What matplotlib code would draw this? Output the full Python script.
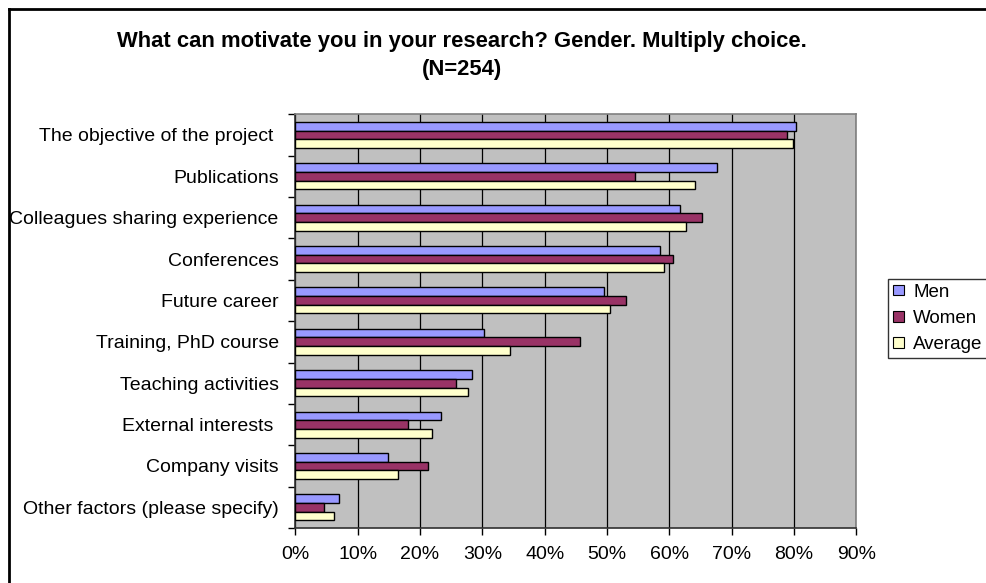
import matplotlib
matplotlib.use("Agg")
import matplotlib.pyplot as plt
import numpy as np
from matplotlib.lines import Line2D
from matplotlib.patches import Patch
from matplotlib.ticker import FuncFormatter, FixedLocator

# survey answers, share of respondents (top to bottom as in the chart)
categories = [
    "The objective of the project ",
    "Publications",
    "Colleagues sharing experience",
    "Conferences",
    "Future career",
    "Training, PhD course",
    "Teaching activities",
    "External interests ",
    "Company visits",
    "Other factors (please specify)",
]
men = [0.803, 0.677, 0.617, 0.585, 0.496, 0.303, 0.283, 0.234, 0.148, 0.070]
women = [0.789, 0.545, 0.652, 0.606, 0.531, 0.456, 0.258, 0.181, 0.213, 0.046]
average = [0.799, 0.642, 0.626, 0.591, 0.505, 0.344, 0.277, 0.219, 0.164, 0.062]
x_ticks = [0, 0.1, 0.2, 0.3, 0.4, 0.5, 0.6, 0.7, 0.8, 0.9]

colors = {"Men": "#9999FF", "Women": "#993366", "Average": "#FFFFCC"}

plt.rcParams["font.family"] = ["Liberation Sans", "DejaVu Sans"]

W, H = 986, 583
fig = plt.figure(figsize=(W / 100, H / 100), dpi=100)
fig.patch.set_facecolor("white")

# plot area in pixels: x 295..856, y 114..528
ax = fig.add_axes([295.3 / W, 1 - 528 / H, (856.3 - 295.3) / W, (528 - 114.3) / H])
ax.set_facecolor("#C0C0C0")

y = np.arange(len(categories))
h = 0.21
for off, vals, name in [(-h, men, "Men"), (0, women, "Women"), (h, average, "Average")]:
    ax.barh(y + off, vals, h, color=colors[name], edgecolor="black",
            linewidth=1.0, zorder=3)

ax.set_xlim(0, 0.9)
ax.set_ylim(len(categories) - 0.5, -0.5)

ax.xaxis.set_major_locator(FixedLocator(x_ticks))
ax.xaxis.set_major_formatter(FuncFormatter(lambda v, p: f"{v * 100:.0f}%"))
ax.grid(axis="x", color="black", linewidth=0.9, zorder=1)
ax.set_axisbelow(True)

ax.set_yticks(y)
ax.set_yticklabels(categories)
ax.set_yticks(np.arange(len(categories) + 1) - 0.5, minor=True)
ax.tick_params(axis="y", which="major", length=0, pad=12, labelsize=14)
ax.tick_params(axis="y", which="minor", length=5, width=1, direction="out")
ax.tick_params(axis="x", length=5, width=1, direction="out", pad=8, labelsize=14)

for side in ["left", "bottom"]:
    ax.spines[side].set_color("#303030")
    ax.spines[side].set_linewidth(1.2)
for side in ["top", "right"]:
    ax.spines[side].set_color("#808080")
    ax.spines[side].set_linewidth(1.2)

fig.text(462 / W, 1 - 42 / H,
         "What can motivate you in your research? Gender. Multiply choice.",
         ha="center", va="center", fontsize=15.8, fontweight="bold")
fig.text(462 / W, 1 - 70 / H, "(N=254)", ha="center", va="center",
         fontsize=15.8, fontweight="bold")

handles = [Patch(facecolor=colors[k], edgecolor="black", linewidth=0.8, label=k)
           for k in ["Men", "Women", "Average"]]
leg = fig.legend(handles=handles, loc="upper left",
                 bbox_to_anchor=(888 / W, 1 - 279 / H),
                 frameon=True, fancybox=False, fontsize=13.5,
                 handlelength=0.6, handleheight=0.5, handletextpad=0.5,
                 labelspacing=0.5, borderpad=0.25, borderaxespad=0)
leg.get_frame().set_edgecolor("black")
leg.get_frame().set_linewidth(1.0)

# outer chart frame (only left and top edges are visible in the crop)
fig.add_artist(Line2D([8.5 / W, 8.5 / W], [0, 1 - 8.5 / H],
                      transform=fig.transFigure, color="black", linewidth=2))
fig.add_artist(Line2D([8.5 / W, 1], [1 - 8.5 / H, 1 - 8.5 / H],
                      transform=fig.transFigure, color="black", linewidth=2))

fig.savefig("out.png", dpi=100)
